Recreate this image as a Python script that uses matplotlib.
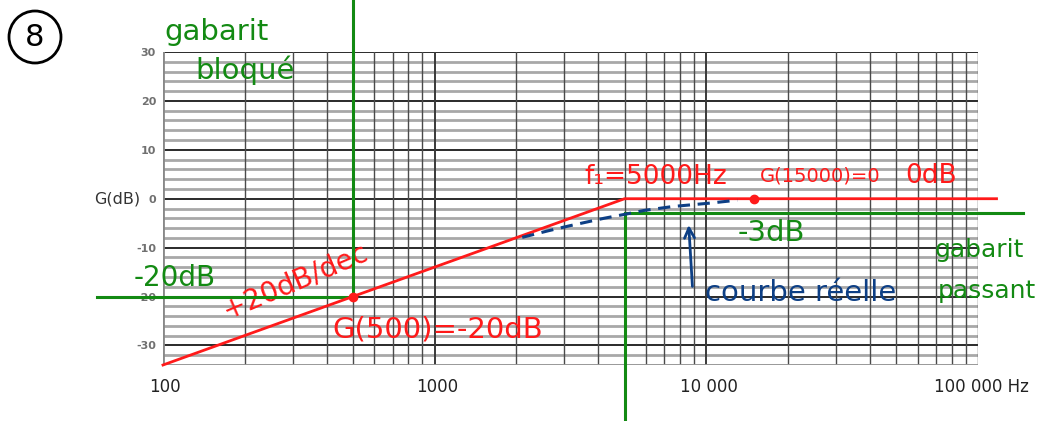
import matplotlib
matplotlib.use("Agg")
import matplotlib.pyplot as plt
from matplotlib.patches import Ellipse
import numpy as np

# ---- data ----
x_ticks = [100, 1000, 10000, 100000]
x_tick_labels = ["100", "1000", "10 000", "100 000 Hz"]
y_ticks = [-30, -20, -10, 0, 10, 20, 30]
y_tick_labels = ["-30", "-20", "-10", "0", "10", "20", "30"]

# asymptotic (red) Bode plot
asym_f = [100, 500, 5000, 117000]
asym_g = [-34, -20, 0, 0]
asym_pts_f = [500, 15000]
asym_pts_g = [-20, 0]

real_f = [2100, 2600, 3100, 4200, 5000, 5900, 7500, 10300, 13000]
real_g = [-7.9, -6.6, -5.6, -4.0, -3.2, -2.4, -1.6, -0.9, -0.3]

# templates (green)
block_h_f = [57, 500]
block_h_g = [-20, -20]
block_v_f = [500, 500]
block_v_g = [-20, 40.6]
pass_v_f = [5000, 5000]
pass_v_g = [-45.4, -3]
pass_h_f = [5000, 146000]
pass_h_g = [-3, -3]

RED = "#ff1a1a"
GREEN = "#138a13"
BLUE = "#0d3f85"

fig = plt.figure(figsize=(10.63, 4.21), dpi=100)
ax = fig.add_axes([163/1063, 1-365/421, (978-163)/1063, (365-52)/421])
ax.set_xscale("log")
ax.set_xlim(100, 100000)
ax.set_ylim(-34, 30)

# grid
for g in range(-34, 31, 2):
    if g % 10 == 0:
        ax.axhline(g, color="#2a2a2a", lw=1.4, zorder=1)
    else:
        ax.axhline(g, color="#a8a8a8", lw=2.0, zorder=0.5)
for dec in [100, 1000, 10000]:
    for m in range(1, 10):
        f = dec * m
        ax.axvline(f, color="#3a3a3a" if m == 1 else "#4a4a4a",
                   lw=1.4 if m == 1 else 1.0, zorder=1)
ax.axvline(100000, color="#4a4a4a", lw=1.0, zorder=1)
for s in ax.spines.values():
    s.set_visible(False)
ax.plot([100, 100], [-34, 30], color="#888888", lw=2, zorder=1)
ax.plot([100, 100000], [-34, -34], color="#999999", lw=2, zorder=1)

ax.set_xticks(x_ticks)
ax.set_xticklabels([])
ax.xaxis.set_minor_locator(matplotlib.ticker.NullLocator())
ax.set_yticks(y_ticks)
ax.set_yticklabels(y_tick_labels, fontsize=8, fontweight="bold", color="#707070")
ax.tick_params(axis="both", length=0, pad=5)

# x tick labels drawn manually for alignment
for f, lab in zip(x_ticks, x_tick_labels):
    ha = "left" if lab.endswith("Hz") else "center"
    xx = f / 1.45 if ha == "left" else f * 1.02
    ax.text(xx, -38.5, lab, ha=ha, va="center", fontsize=12, color="#222222",
            clip_on=False)

ax.text(-0.028, 0, "G(dB)", ha="right", va="center", fontsize=11.5,
        color="#333333", clip_on=False, transform=ax.get_yaxis_transform())

# curves
ax.plot(asym_f, asym_g, color=RED, lw=2, zorder=5, clip_on=False)
ax.plot(asym_pts_f, asym_pts_g, "o", color=RED, ms=6, zorder=6, clip_on=False)
ax.plot(real_f, real_g, color=BLUE, lw=2.2, ls=(0, (4, 2.5)), zorder=5)

for fx, gy in [(block_h_f, block_h_g), (block_v_f, block_v_g),
               (pass_v_f, pass_v_g), (pass_h_f, pass_h_g)]:
    ax.plot(fx, gy, color=GREEN, lw=2.2, zorder=4, clip_on=False)

# arrow to real curve
ax.annotate("", xy=(8600, -4.8), xytext=(8900, -18.5),
            arrowprops=dict(arrowstyle="->", color=BLUE, lw=2,
                            mutation_scale=18), zorder=6)

# annotations
ax.text(9900, -19.3, "courbe réelle", color=BLUE, fontsize=21, va="center",
        ha="left", zorder=7)
ax.text(3550, 4.5, "f₁=5000Hz", color=RED, fontsize=19, va="center", ha="left")
ax.text(15700, 4.7, "G(15000)=0", color=RED, fontsize=14, va="center", ha="left")
ax.text(54000, 4.6, "0dB", color=RED, fontsize=19, va="center", ha="left")
ax.text(420, -26.8, "G(500)=-20dB", color=RED, fontsize=21, va="center", ha="left")
ax.text(172, -24.5, "+20dB/dec", color=RED, fontsize=20, va="baseline", ha="left",
        rotation=23, rotation_mode="anchor")
ax.text(78, -16.3, "-20dB", color=GREEN, fontsize=20, va="center", ha="left",
        clip_on=False)
ax.text(13000, -7.0, "-3dB", color=GREEN, fontsize=21, va="center", ha="left")
ax.text(69000, -10.5, "gabarit", color=GREEN, fontsize=18, va="center", ha="left",
        clip_on=False)
ax.text(71000, -18.8, "passant", color=GREEN, fontsize=18, va="center", ha="left",
        clip_on=False)
ax.text(101, 34.0, "gabarit", color=GREEN, fontsize=21, va="center", ha="left",
        clip_on=False)
ax.text(132, 26.3, "bloqué", color=GREEN, fontsize=21, va="center", ha="left",
        clip_on=False)

# circled number
fig.patches.append(Ellipse((35/1063, 1-37/421), 52/1063, 52/421,
                           transform=fig.transFigure, fill=False,
                           ec="black", lw=2))
fig.text(35/1063, 1-38/421, "8", ha="center", va="center", fontsize=22)

fig.savefig("out.png", dpi=100)
